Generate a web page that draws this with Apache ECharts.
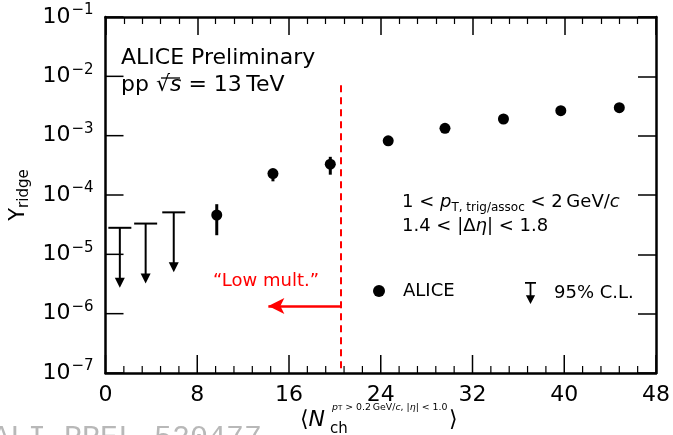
<!DOCTYPE html>
<html>
<head>
<meta charset="utf-8">
<script src="https://cdn.jsdelivr.net/npm/echarts@6/dist/echarts.min.js"></script>
<style>
  html, body { margin: 0; padding: 0; background: #fff; }
  #chart { width: 673px; height: 435px; }
</style>
</head>
<body>
<div id="chart"></div>
<script>
// values
const nch = [9.7, 14.6, 19.6, 24.65, 29.6, 34.7, 39.7, 44.8];
const yridge = [4.6e-5, 2.3e-4, 3.3e-4, 8.2e-4, 1.33e-3, 1.91e-3, 2.64e-3, 2.96e-3];
const errLow = [2.1e-5, 1.7e-4, 2.2e-4, null, null, null, null, null];
const errHigh = [7.0e-5, 2.6e-4, 4.4e-4, null, null, null, null, null];

// 95% C.L. upper limits
const ulNch = [1.25, 3.5, 5.95];
const ulValue = [2.8e-5, 3.3e-5, 5.1e-5];

const lowMultCut = 20.55;
const xTicks = [0, 8, 16, 24, 32, 40, 48];
const yTicks = [1e-7, 1e-6, 1e-5, 1e-4, 1e-3, 1e-2, 1e-1];

const FONT = 'DejaVu Sans';
const chart = echarts.init(document.getElementById('chart'));

const expLabel = v => {
  const e = Math.round(Math.log10(v));
  return '{b|10}{s|\u2212' + Math.abs(e) + '}';
};

const axisLine = () => ({ show: true, onZero: false, lineStyle: { color: '#000', width: 2.5 } });
const majorTick = () => ({ show: true, inside: true, length: 18, lineStyle: { color: '#000', width: 1.5 } });
const minorTick = () => ({ show: true, splitNumber: 5, length: 7, lineStyle: { color: '#000', width: 1.2 } });

// ticks for the bottom and left sides: [x, y, kind] with kind 0 = x major, 1 = x minor, 2 = y major
const tickMarks = [];
xTicks.forEach((t, i) => {
  tickMarks.push([t, yTicks[0], 0]);
  if (i < xTicks.length - 1) {
    for (let k = 1; k < 5; k++) tickMarks.push([t + (xTicks[i + 1] - t) * k / 5, yTicks[0], 1]);
  }
});
yTicks.forEach(t => tickMarks.push([xTicks[0], t, 2]));

const option = {
  animation: false,
  backgroundColor: '#fff',
  grid: { left: 104, right: 14, top: 17, bottom: 62 },
  xAxis: [
    {
      type: 'value', position: 'bottom', min: xTicks[0], max: xTicks[xTicks.length - 1], interval: 8,
      axisLine: axisLine(), axisTick: { show: false },
      splitLine: { show: false },
      axisLabel: { margin: 11, color: '#000', fontFamily: FONT, fontSize: 22 }
    },
    {
      type: 'value', position: 'top', min: xTicks[0], max: xTicks[xTicks.length - 1], interval: 8,
      axisLine: axisLine(), axisTick: majorTick(), minorTick: minorTick(),
      splitLine: { show: false }, minorSplitLine: { show: false }, axisLabel: { show: false }
    }
  ],
  yAxis: [
    {
      type: 'log', logBase: 10, position: 'left', min: 1e-7, max: 1e-1, interval: 1, splitNumber: 6,
      axisLine: axisLine(), axisTick: { show: false },
      splitLine: { show: false },
      axisLabel: {
        margin: 12, color: '#000', formatter: expLabel,
        rich: {
          b: { fontFamily: FONT, fontSize: 22, color: '#000', lineHeight: 28 },
          s: { fontFamily: FONT, fontSize: 15, color: '#000', verticalAlign: 'top', padding: [0, 0, 0, 1] }
        }
      },
      name: '{y|Y}{r|ridge}',
      nameLocation: 'middle', nameRotate: 90, nameGap: 56,
      nameTextStyle: {
        rich: {
          y: { fontFamily: FONT, fontSize: 21, color: '#000', lineHeight: 26 },
          r: { fontFamily: FONT, fontSize: 15, color: '#000', verticalAlign: 'bottom' }
        }
      }
    },
    {
      type: 'log', logBase: 10, position: 'right', min: 1e-7, max: 1e-1, interval: 1, splitNumber: 6,
      axisLine: axisLine(), axisTick: majorTick(),
      splitLine: { show: false }, axisLabel: { show: false }
    }
  ],
  legend: [
    {
      data: [{ name: 'ALICE', icon: 'circle' }],
      left: 373, top: 282, padding: 0, itemWidth: 12, itemHeight: 12, selectedMode: false,
      textStyle: { fontFamily: FONT, fontSize: 18, color: '#000', padding: [0, 0, 0, 13] }
    },
    {
      data: [{ name: '95% C.L.', icon: 'path://M0,0 L10,0 L10,1.6 L5.8,1.6 L5.8,12 L9.2,12 L5,20 L0.8,12 L4.2,12 L4.2,1.6 L0,1.6 Z' }],
      left: 525, top: 282, padding: 0, itemWidth: 13, itemHeight: 22, selectedMode: false,
      textStyle: { fontFamily: FONT, fontSize: 18, color: '#000', padding: [0, 0, 0, 12] }
    }
  ],
  series: [
    {
      name: 'ticks',
      type: 'custom',
      silent: true,
      clip: false,
      data: tickMarks,
      renderItem: (params, api) => {
        const p = api.coord([api.value(0), api.value(1)]);
        const kind = api.value(2);
        if (kind === 2) {
          return { type: 'line', shape: { x1: p[0], y1: p[1], x2: p[0] + 18, y2: p[1] },
                   style: { stroke: '#000', lineWidth: 1.5 } };
        }
        const len = kind === 0 ? 18 : 7;
        return { type: 'line', shape: { x1: p[0], y1: p[1], x2: p[0], y2: p[1] - len },
                 style: { stroke: '#000', lineWidth: kind === 0 ? 1.5 : 1.2 } };
      },
      z: 2
    },
    {
      name: 'err',
      type: 'custom',
      data: nch.map((x, i) => [x, errLow[i], errHigh[i]]).filter(d => d[1] != null),
      renderItem: (params, api) => {
        const a = api.coord([api.value(0), api.value(1)]);
        const b = api.coord([api.value(0), api.value(2)]);
        return { type: 'line', shape: { x1: a[0], y1: a[1], x2: b[0], y2: b[1] },
                 style: { stroke: '#000', lineWidth: 3 } };
      },
      z: 3
    },
    {
      name: 'ALICE',
      type: 'scatter',
      data: nch.map((x, i) => [x, yridge[i]]),
      symbol: 'circle', symbolSize: 11,
      itemStyle: { color: '#000', opacity: 1 },
      z: 4,
      markLine: {
        silent: true, animation: false,
        label: { show: false },
        data: [
          [{ coord: [lowMultCut, 7.1e-3], symbol: 'none' },
           { coord: [lowMultCut, 1e-7], symbol: 'none' }],
          [{ coord: [14.2, 1.35e-6], symbol: 'arrow', symbolSize: [12, 16],
             lineStyle: { type: 'solid', width: 2.5 } },
           { coord: [lowMultCut - 0.1, 1.35e-6], symbol: 'none',
             lineStyle: { type: 'solid', width: 2.5 } }]
        ],
        lineStyle: { color: '#ff0000', width: 2, type: [7, 5] }
      }
    },
    {
      name: '95% C.L.',
      type: 'custom',
      itemStyle: { color: '#000' },
      data: ulNch.map((x, i) => [x, ulValue[i]]),
      renderItem: (params, api) => {
        const p = api.coord([api.value(0), api.value(1)]);
        const x = p[0], y = p[1];
        return {
          type: 'group',
          children: [
            { type: 'line', shape: { x1: x - 11.5, y1: y, x2: x + 11.5, y2: y }, style: { stroke: '#000', lineWidth: 2 } },
            { type: 'line', shape: { x1: x, y1: y, x2: x, y2: y + 52 }, style: { stroke: '#000', lineWidth: 2 } },
            { type: 'polygon', shape: { points: [[x - 5, y + 50], [x + 5, y + 50], [x, y + 60]] }, style: { fill: '#000' } }
          ]
        };
      },
      z: 3
    }
  ],
  graphic: [
    { type: 'text', left: 121, top: 47, style: { text: 'ALICE Preliminary', fontFamily: FONT, fontSize: 22, fill: '#000' } },
    {
      type: 'text', left: 121, top: 74,
      style: {
        text: '{n|pp }{n|\u221a}{i|s}{n| = 13\u2009TeV}',
        rich: {
          n: { fontFamily: FONT, fontSize: 22, fill: '#000' },
          i: { fontFamily: FONT, fontSize: 22, fontStyle: 'italic', fill: '#000' }
        }
      }
    },
    { type: 'line', shape: { x1: 161, y1: 78, x2: 180, y2: 78 }, style: { stroke: '#000', lineWidth: 1.3 } },
    {
      type: 'text', left: 402, top: 193,
      style: {
        text: '{n|1 < }{i|p}{sub|T, trig/assoc}{n| < 2\u2009GeV/}{i|c}\n{n|1.4 < |\u0394}{i|\u03b7}{n|| < 1.8}',
        rich: {
          n: { fontFamily: FONT, fontSize: 18, fill: '#000', lineHeight: 24 },
          i: { fontFamily: FONT, fontSize: 18, fontStyle: 'italic', fill: '#000', lineHeight: 24 },
          sub: { fontFamily: FONT, fontSize: 12, fill: '#000', verticalAlign: 'bottom', lineHeight: 24 }
        }
      }
    },
    { type: 'text', left: 213, top: 272, style: { text: '\u201cLow mult.\u201d', fontFamily: FONT, fontSize: 18, fill: '#ff0000' } },
    {
      type: 'text', left: 300, top: 409,
      style: {
        text: '{n|\u27e8}{N|N}',
        rich: {
          n: { fontFamily: FONT, fontSize: 22, fill: '#000' },
          N: { fontFamily: FONT, fontSize: 22, fontStyle: 'italic', fill: '#000' }
        }
      }
    },
    {
      type: 'text', left: 332, top: 403,
      style: {
        text: '{i|p}{t|T}{s| > 0.2\u2009GeV/}{i|c}{s|, |}{i|\u03b7}{s|| < 1.0}',
        rich: {
          i: { fontFamily: FONT, fontSize: 9.4, fontStyle: 'italic', fill: '#000' },
          s: { fontFamily: FONT, fontSize: 9.4, fill: '#000' },
          t: { fontFamily: FONT, fontSize: 7, fill: '#000', verticalAlign: 'bottom' }
        }
      }
    },
    { type: 'text', left: 330, top: 422, style: { text: 'ch', fontFamily: FONT, fontSize: 15, fill: '#000' } },
    { type: 'text', left: 449, top: 409, style: { text: '\u27e9', fontFamily: FONT, fontSize: 22, fill: '#000' } },
    { type: 'text', left: -8, top: 423, z: -1, style: { text: 'ALI-PREL-520477', fontFamily: 'Liberation Mono', fontSize: 30, fill: '#b8b8b8' } }
  ]
};

chart.setOption(option);
</script>
</body>
</html>
